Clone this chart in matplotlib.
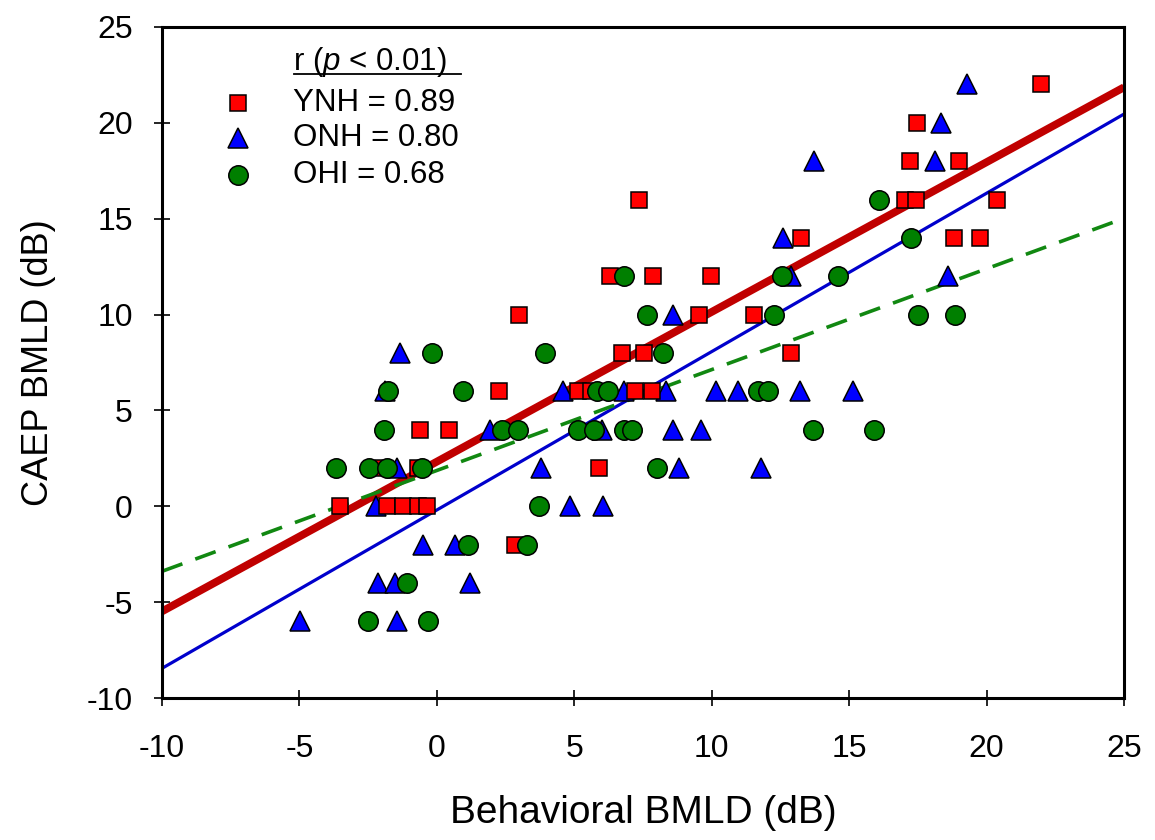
import matplotlib
matplotlib.use("Agg")
from matplotlib import pyplot as plt
import numpy as np

plt.rcParams['font.family'] = ['Liberation Sans', 'DejaVu Sans']
plt.rcParams['mathtext.fontset'] = 'custom'
plt.rcParams['mathtext.it'] = 'Liberation Sans:italic'
plt.rcParams['mathtext.rm'] = 'Liberation Sans'
plt.rcParams['axes.unicode_minus'] = False

# YNH (squares)
ynh_x = [21.97, 17.46, 17.2, 18.99, 7.37, 17.02, 17.42, 20.37, 13.23, 18.8, 19.75,
         6.31, 7.88, 9.99, 2.97, 9.52, 11.52, 6.75, 7.55, 12.9, 2.27, 5.15, 5.6,
         7.19, 7.84, -0.6, 0.45, -1.95, -0.7, 5.9, -3.52, -1.8, -1.22, -0.68, -0.35, 2.85]
ynh_y = [22, 20, 18, 18, 16, 16, 16, 16, 14, 14, 14,
         12, 12, 12, 10, 10, 10, 8, 8, 8, 6, 6, 6,
         6, 6, 4, 4, 2, 2, 2, 0, 0, 0, 0, 0, -2]

# ONH (triangles)
onh_x = [19.28, 18.33, 13.73, 18.11, 12.61, 12.9, 18.6, 8.6, -1.33, -1.9, 4.6,
         6.79, 8.32, 10.14, 10.96, 13.2, 15.13, 1.94, 6.0, 8.6, 9.6, -1.45, 3.77,
         8.8, 11.78, -2.2, 4.86, 6.06, -0.5, 0.67, -2.13, -1.51, 1.22, -4.97, -1.44]
onh_y = [22, 20, 18, 18, 14, 12, 12, 10, 8, 6, 6,
         6, 6, 6, 6, 6, 6, 4, 4, 4, 4, 2, 2,
         2, 2, 0, 0, 0, -2, -2, -4, -4, -4, -6, -6]

# OHI (circles)
ohi_x = [16.07, 17.24, 6.79, 12.54, 14.6, 7.63, 12.25, 17.5, 18.84, -0.17, 3.95,
         8.24, -1.77, 0.96, 5.84, 6.24, 11.7, 12.03, -1.92, 2.38, 2.96, 5.15, 5.7,
         6.8, 7.1, 13.7, 15.89, -3.66, -2.46, -1.8, -0.53, 7.99, 3.73, 1.14, 3.26,
         -1.08, -2.5, -0.31]
ohi_y = [16, 14, 12, 12, 12, 10, 10, 10, 10, 8, 8,
         8, 6, 6, 6, 6, 6, 6, 4, 4, 4, 4, 4,
         4, 4, 4, 4, 2, 2, 2, 2, 2, 0, -2, -2,
         -4, -6, -6]

# regression lines (slope, intercept)
ynh_fit = (0.781, 2.33)
onh_fit = (0.826, -0.19)
ohi_fit = (0.526, 1.87)

r_labels = ['YNH = 0.89', 'ONH = 0.80', 'OHI = 0.68']

fig = plt.figure(figsize=(11.55, 8.4), dpi=100)
ax = fig.add_axes([0.1403, 0.169, 0.8329, 0.7989])

xl = np.array([-10, 25])
ax.plot(xl, ynh_fit[0] * xl + ynh_fit[1], color='#C00000', lw=5.6, zorder=2,
        solid_capstyle='butt')
ax.plot(xl, onh_fit[0] * xl + onh_fit[1], color='#0000CC', lw=2.3, zorder=2)
ax.plot(xl, ohi_fit[0] * xl + ohi_fit[1], color='#118811', lw=2.6, zorder=2,
        dashes=(6, 3.8))

ax.plot(onh_x, onh_y, '^', ms=14, mfc='#0000FF', mec='black', mew=1.1,
        ls='none', zorder=3)
ax.plot(ynh_x, ynh_y, 's', ms=12, mfc='#FF0000', mec='black', mew=1.1,
        ls='none', zorder=4)
ax.plot(ohi_x, ohi_y, 'o', ms=14, mfc='#007F00', mec='black', mew=1.1,
        ls='none', zorder=5)

ax.set_xlim(-10, 25)
ax.set_ylim(-10, 25)
ax.set_xticks(np.arange(-10, 26, 5))
ax.set_yticks(np.arange(-10, 26, 5))
ax.tick_params(direction='inout', length=12, width=1.2, labelsize=23)
ax.tick_params(axis='x', pad=20)
ax.tick_params(axis='y', pad=15)
for s in ax.spines.values():
    s.set_linewidth(2.2)

ax.set_xlabel('Behavioral BMLD (dB)', fontsize=28, labelpad=22)
ax.set_ylabel('CAEP BMLD (dB)', fontsize=26, labelpad=22)

# legend drawn by hand
ax.text(0.136, 0.948, r'r ($\it{p}$ < 0.01)', transform=ax.transAxes,
        fontsize=22.5, va='center', ha='left')
ax.plot([0.137, 0.311], [0.930, 0.930], color='black', lw=1.3,
        transform=ax.transAxes, clip_on=False)
leg_y = [0.887, 0.835, 0.779]
styles = [('s', 12, '#FF0000'), ('^', 14, '#0000FF'), ('o', 14, '#007F00')]
for (m, ms, c), ly, lab in zip(styles, leg_y, r_labels):
    ax.plot([0.079], [ly], m, ms=ms, mfc=c, mec='black', mew=1.1,
            transform=ax.transAxes, clip_on=False)
    ax.text(0.136, ly, lab, transform=ax.transAxes, fontsize=22.5,
            va='center', ha='left')

fig.savefig('out.png', dpi=100)
